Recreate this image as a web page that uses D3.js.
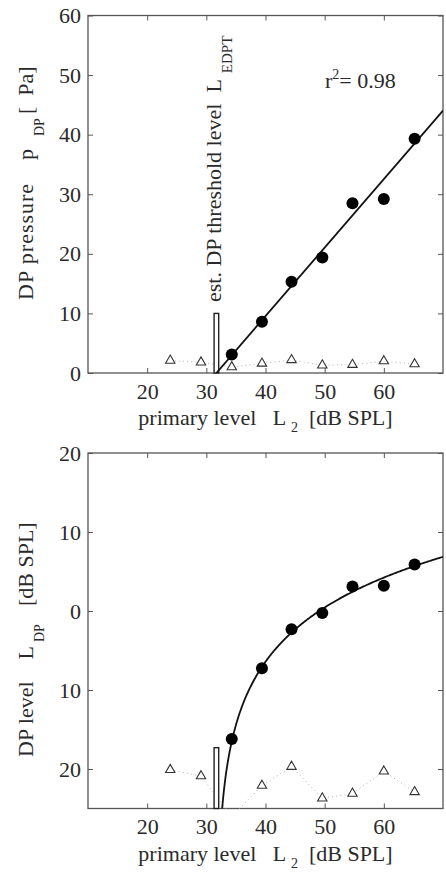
<!DOCTYPE html>
<html>
<head>
<meta charset="utf-8">
<script src="https://cdn.jsdelivr.net/npm/d3@7/dist/d3.min.js"></script>
<style>
  html, body { margin: 0; padding: 0; background: #fff; }
  svg { display: block; font-family: "Liberation Serif", "DejaVu Serif", serif; }
  svg text { white-space: pre; }
</style>
</head>
<body>
<svg id="fig" width="446" height="874"></svg>
<script>
// Stimulus levels L2 (dB SPL)
const dpL2 = [34.3, 39.4, 44.4, 49.6, 54.7, 60.0, 65.2];
const noiseL2 = [23.9, 29.1, 34.3, 39.4, 44.4, 49.6, 54.7, 60.0, 65.2];

// Upper panel: DP pressure and noise floor (µPa)
const dpPressure = [3.1, 8.6, 15.3, 19.4, 28.5, 29.2, 39.3];
const noisePressure = [2.1, 1.8, 1.0, 1.6, 2.2, 1.3, 1.4, 2.0, 1.5];

// Lower panel: DP level and noise floor (dB SPL)
const dpLevel = [-16.2, -7.25, -2.3, -0.25, 3.1, 3.2, 5.9];
const noiseLevel = [-20.1, -20.9, -26.0, -22.1, -19.7, -23.7, -23.1, -20.3, -22.9];

// Linear fit of pressure vs. L2 and the estimated threshold
const fitSlope = 1.15;       // µPa per dB
const thresholdL2 = 31.7;    // L_EDPT (dB SPL)
const rSquared = 0.98;
const thresholdMarkTop = [10, -17.3]; // upper ends of the threshold marker per panel
const refPressure = 20;      // µPa, 0 dB SPL

// Axis ticks
const xTicks = [20, 30, 40, 50, 60];
const pTicks = [0, 10, 20, 30, 40, 50, 60];
const lTicks = [20, 10, 0, -10, -20];

const svg = d3.select("#fig");
const textColor = "#2a2a2a";
const frameColor = "#555";
const fontSize = 22;
const subSize = 14;

const x = d3.scaleLinear().domain([10, 70]).range([88, 443]);
const yP = d3.scaleLinear().domain([0, 60]).range([373, 15.5]);
const yL = d3.scaleLinear().domain([-25, 20]).range([808.5, 453]);

function frameAndAxes(g, y, yTickVals, yFmt, id) {
  const [x0, x1] = x.range();
  const [yb, yt] = y.range();

  g.append("clipPath").attr("id", id)
    .append("rect").attr("x", x0).attr("y", yt).attr("width", x1 - x0).attr("height", yb - yt);

  const styleAxis = sel => {
    sel.select(".domain").remove();
    sel.selectAll(".tick line").attr("stroke", frameColor).attr("stroke-width", 1);
    sel.selectAll(".tick text").attr("fill", textColor)
      .style("font-family", '"Liberation Serif", serif').style("font-size", fontSize + "px");
  };

  g.append("g").attr("transform", `translate(0,${yb})`)
    .call(d3.axisBottom(x).tickValues(xTicks).tickSize(-5).tickPadding(10).tickFormat(d3.format("d")))
    .call(styleAxis);
  g.append("g").attr("transform", `translate(0,${yt})`)
    .call(d3.axisTop(x).tickValues(xTicks).tickSize(-5).tickFormat(""))
    .call(styleAxis);
  g.append("g").attr("transform", `translate(${x0},0)`)
    .call(d3.axisLeft(y).tickValues(yTickVals).tickSize(-5).tickPadding(7).tickFormat(yFmt))
    .call(styleAxis);
  g.append("g").attr("transform", `translate(${x1},0)`)
    .call(d3.axisRight(y).tickValues(yTickVals).tickSize(-5).tickFormat(""))
    .call(styleAxis);

  g.append("rect").attr("x", x0).attr("y", yt).attr("width", x1 - x0).attr("height", yb - yt)
    .attr("fill", "none").attr("stroke", frameColor).attr("stroke-width", 1.3);
}

function noiseFloor(g, y, vals, id) {
  const pts = noiseL2.map((d, i) => [d, vals[i]]);
  g.append("path").attr("clip-path", `url(#${id})`)
    .attr("d", d3.line().x(d => x(d[0])).y(d => y(d[1]))(pts))
    .attr("fill", "none").attr("stroke", "#bdbdbd").attr("stroke-width", 1)
    .attr("stroke-dasharray", "1.2,3");
  g.append("g").attr("clip-path", `url(#${id})`).selectAll("path.tri").data(pts).enter()
    .append("path").attr("class", "tri")
    .attr("d", d3.symbol(d3.symbolTriangle, 38)())
    .attr("transform", d => `translate(${x(d[0])},${y(d[1])})`)
    .attr("fill", "#fff").attr("stroke", "#333").attr("stroke-width", 1.1);
}

function dpPoints(g, y, vals) {
  g.append("g").selectAll("circle").data(dpL2.map((d, i) => [d, vals[i]])).enter()
    .append("circle").attr("cx", d => x(d[0])).attr("cy", d => y(d[1])).attr("r", 6)
    .attr("fill", "#000");
}

function thresholdMark(g, y, upper) {
  const xm = x(thresholdL2);
  g.append("rect").attr("x", xm - 2.3).attr("y", y(upper)).attr("width", 4.6)
    .attr("height", y.range()[0] - y(upper))
    .attr("fill", "#fff").attr("stroke", "#222").attr("stroke-width", 1.4);
}

function label(g, transform) {
  return g.append("text").attr("transform", transform)
    .attr("fill", textColor).style("font-size", fontSize + "px");
}

function xTitle(g, yBase) {
  const t = label(g, `translate(${(x.range()[0] + x.range()[1]) / 2},${yBase})`)
    .attr("text-anchor", "middle");
  t.append("tspan").text("primary level   L ");
  t.append("tspan").attr("dy", 7).style("font-size", subSize + "px").text("2");
  t.append("tspan").attr("dy", -7).text("  [dB SPL]");
}

// ---------- Upper panel: DP pressure ----------
const upperPanel = svg.append("g");
frameAndAxes(upperPanel, yP, pTicks, d3.format("d"), "clipTop");
noiseFloor(upperPanel, yP, noisePressure, "clipTop");
thresholdMark(upperPanel, yP, thresholdMarkTop[0]);

upperPanel.append("line").attr("clip-path", "url(#clipTop)")
  .attr("x1", x(thresholdL2)).attr("y1", yP(0))
  .attr("x2", x(70)).attr("y2", yP(fitSlope * (70 - thresholdL2)))
  .attr("stroke", "#111").attr("stroke-width", 1.8);
dpPoints(upperPanel, yP, dpPressure);

const rt = label(upperPanel, "translate(325,88)");
rt.append("tspan").text("r");
rt.append("tspan").attr("dy", -9).style("font-size", subSize + "px").text("2");
rt.append("tspan").attr("dy", 9).text("= " + rSquared.toFixed(2));

// threshold annotation, vertical
const ta = label(upperPanel, "translate(221,302) rotate(-90)");
ta.append("tspan").text("est. DP threshold level  L");
ta.append("tspan").attr("dx", 6).attr("dy", 11).style("font-size", "15px").text("EDPT");

// y title, written along the rotated axis (x = distance from the start point)
const yt1 = label(upperPanel, "translate(33,300) rotate(-90)");
yt1.append("tspan").attr("x", 0).style("letter-spacing", "1px").text("DP pressure");
yt1.append("tspan").attr("x", 140).text("p");
yt1.append("tspan").attr("x", 164).attr("dy", 11).style("font-size", subSize + "px").text("DP");
yt1.append("tspan").attr("x", 186).attr("dy", -11).text("[  Pa]");

xTitle(upperPanel, 425);

// ---------- Lower panel: DP level ----------
const lowerPanel = svg.append("g");
frameAndAxes(lowerPanel, yL, lTicks, d => String(Math.abs(d)), "clipBot");
noiseFloor(lowerPanel, yL, noiseLevel, "clipBot");
thresholdMark(lowerPanel, yL, thresholdMarkTop[1]);

// fitted pressure line expressed in dB SPL
const curveX = d3.range(0, 1.0001, 0.002).map(t => thresholdL2 + 0.02 + Math.pow(t, 3) * (70 - thresholdL2 - 0.02));
lowerPanel.append("path").attr("clip-path", "url(#clipBot)")
  .attr("d", d3.line().x(d => x(d)).y(d => yL(20 * Math.log10(fitSlope * (d - thresholdL2) / refPressure)))(curveX))
  .attr("fill", "none").attr("stroke", "#111").attr("stroke-width", 1.8);
dpPoints(lowerPanel, yL, dpLevel);

const yt2 = label(lowerPanel, "translate(33,757) rotate(-90)");
yt2.append("tspan").text("DP level    L");
yt2.append("tspan").attr("dx", 4).attr("dy", 11).style("font-size", subSize + "px").text("DP");
yt2.append("tspan").attr("dx", 18).attr("dy", -11).text("[dB SPL]");

xTitle(lowerPanel, 861);
</script>
</body>
</html>
